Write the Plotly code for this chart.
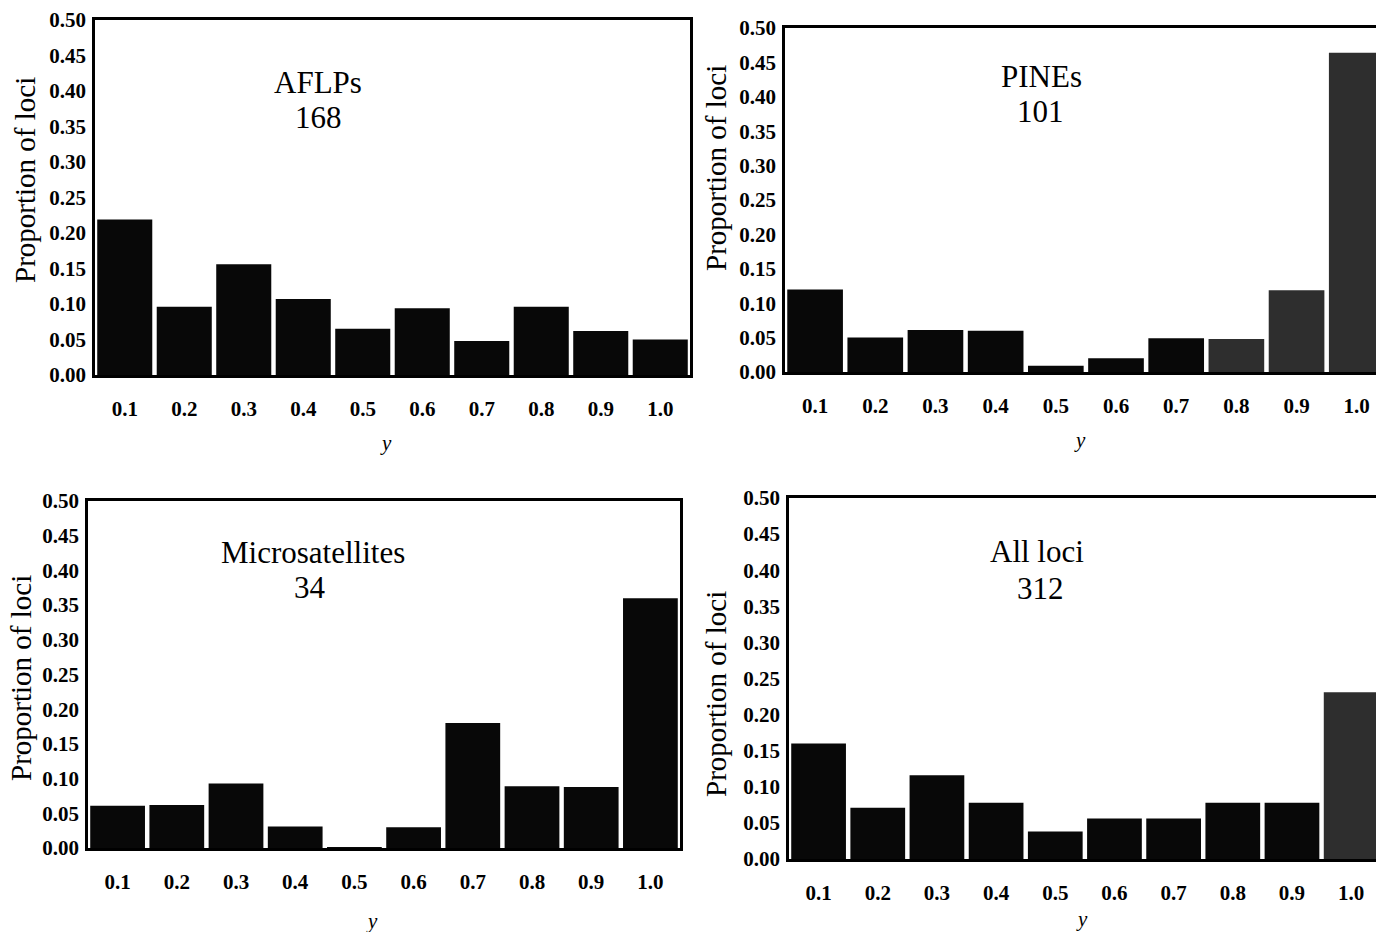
import plotly.graph_objects as go

bins = [0.1, 0.2, 0.3, 0.4, 0.5, 0.6, 0.7, 0.8, 0.9, 1.0]
tick_labels = ["0.1", "0.2", "0.3", "0.4", "0.5", "0.6", "0.7", "0.8", "0.9", "1.0"]

aflps = [0.219, 0.096, 0.156, 0.107, 0.065, 0.094, 0.048, 0.096, 0.062, 0.050]
pines = [0.120, 0.050, 0.061, 0.060, 0.009, 0.020, 0.049, 0.048, 0.119, 0.464]
micro = [0.061, 0.062, 0.093, 0.031, 0.001, 0.030, 0.180, 0.089, 0.088, 0.360]
all_loci = [0.160, 0.071, 0.116, 0.078, 0.038, 0.056, 0.056, 0.078, 0.078, 0.231]

panel_names = ["AFLPs", "PINEs", "Microsatellites", "All loci"]
panel_counts = ["168", "101", "34", "312"]

y_ticks = [0.0, 0.05, 0.10, 0.15, 0.20, 0.25, 0.30, 0.35, 0.40, 0.45, 0.50]
y_tick_labels = ["0.00", "0.05", "0.10", "0.15", "0.20", "0.25", "0.30", "0.35", "0.40", "0.45", "0.50"]

BLACK = "#080808"
GRAY = "#2e2e2e"
colors = [
    [BLACK] * 10,
    [BLACK] * 7 + [GRAY, GRAY, GRAY],
    [BLACK] * 10,
    [BLACK] * 9 + [GRAY],
]

W, H = 1376, 932
SERIF = "Liberation Serif"

panels = [
    dict(l=95, r=690, t=20, b=375, xend=1.05, mirror=True),
    dict(l=785, r=1376, t=28, b=372, xend=1.032, mirror=False),
    dict(l=88, r=680, t=501, b=848, xend=1.05, mirror=True),
    dict(l=789, r=1376, t=498, b=859, xend=1.042, mirror=False),
]
series = [aflps, pines, micro, all_loci]

fig = go.Figure()
layout = dict(
    width=W, height=H,
    margin=dict(l=0, r=0, t=0, b=0),
    paper_bgcolor="white", plot_bgcolor="white",
    showlegend=False,
    font=dict(family=SERIF, color="black"),
)
annotations = []

name_pos = [(318, 82), (1041, 77), (313, 552), (1037, 551)]
count_pos = [(318, 117), (1040, 112), (310, 587), (1040, 588)]
ytitle_pos = [(25, 180), (716, 168), (21, 678), (716, 694)]
xtitle_pos = [(386, 443), (1080, 440), (372, 921), (1082, 919)]

for i, (p, vals, cols) in enumerate(zip(panels, series, colors)):
    n = i + 1
    xa = "x" if n == 1 else f"x{n}"
    ya = "y" if n == 1 else f"y{n}"
    fig.add_trace(go.Bar(
        x=bins, y=vals, width=0.0925,
        marker=dict(color=cols, line=dict(width=0)),
        xaxis=xa, yaxis=ya, hoverinfo="skip",
    ))
    xdom = [p["l"] / W, p["r"] / W]
    ydom = [1 - p["b"] / H, 1 - p["t"] / H]
    layout[f"xaxis{'' if n == 1 else n}"] = dict(
        domain=xdom, range=[0.05, p["xend"]], anchor=ya,
        tickmode="array", tickvals=bins, ticktext=tick_labels,
        tickfont=dict(family=SERIF, size=21, color="black", weight="bold"),
        showgrid=False, zeroline=False,
        showline=True, linecolor="black", linewidth=2.5, mirror=True,
        ticks="", ticklabelstandoff=13, automargin=False,
    )
    layout[f"yaxis{'' if n == 1 else n}"] = dict(
        domain=ydom, range=[0, 0.5], anchor=xa,
        tickmode="array", tickvals=y_ticks, ticktext=y_tick_labels,
        tickfont=dict(family=SERIF, size=21, color="black", weight="bold"),
        showgrid=False, zeroline=False,
        showline=True, linecolor="black", linewidth=2.5, mirror=p["mirror"],
        ticks="", ticklabelstandoff=2, automargin=False,
    )
    for txt, (px, py) in ((panel_names[i], name_pos[i]), (panel_counts[i], count_pos[i])):
        annotations.append(dict(
            x=px / W, y=1 - py / H, xref="paper", yref="paper",
            text=txt, showarrow=False,
            font=dict(family=SERIF, size=31, color="black"),
            xanchor="center", yanchor="middle",
        ))
    annotations.append(dict(
        x=ytitle_pos[i][0] / W, y=1 - ytitle_pos[i][1] / H, xref="paper", yref="paper",
        text="Proportion of loci", showarrow=False, textangle=-90,
        font=dict(family=SERIF, size=29, color="black"),
        xanchor="center", yanchor="middle",
    ))
    annotations.append(dict(
        x=xtitle_pos[i][0] / W, y=1 - xtitle_pos[i][1] / H, xref="paper", yref="paper",
        text="<i>y</i>", showarrow=False,
        font=dict(family=SERIF, size=21, color="black"),
        xanchor="center", yanchor="middle",
    ))

layout["annotations"] = annotations
fig.update_layout(**layout)
fig.write_html("out.html", config={"displayModeBar": False},
               post_script="document.body.style.margin='0';")
